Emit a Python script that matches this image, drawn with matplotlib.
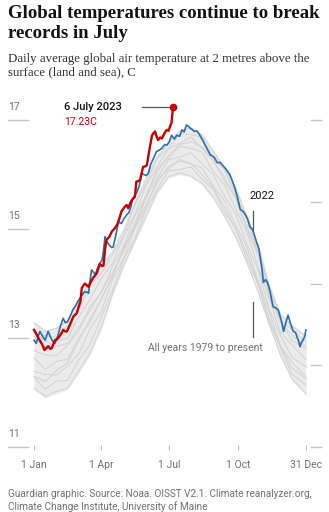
import matplotlib
matplotlib.use('Agg')
import matplotlib.pyplot as plt

# Chart data
grid_days = [0, 15, 30, 45, 60, 75, 90, 105, 120, 135, 150, 165, 180,
             195, 210, 225, 240, 255, 270, 285, 300, 315, 330, 345, 364]

band_low = [12.05, 11.9, 11.98, 12.06, 12.35, 12.7, 13.15, 13.78, 14.3, 14.75, 15.2, 15.66, 15.93,
            16.0, 15.95, 15.8, 15.55, 15.2, 14.82, 14.35, 13.8, 13.2, 12.65, 12.22, 11.95]
band_high = [13.3, 13.15, 13.2, 13.35, 13.7, 14.1, 14.35, 14.6, 15.0, 15.5, 15.95, 16.35, 16.6,
             16.8, 16.88, 16.75, 16.45, 16.15, 15.78, 15.25, 14.72, 13.98, 13.45, 13.25, 13.05]

past_years = [
    [12.08, 11.93, 12.02, 12.08, 12.40, 12.72, 13.20, 13.80, 14.34, 14.78, 15.24, 15.68, 15.96,
     16.03, 15.97, 15.84, 15.58, 15.24, 14.85, 14.38, 13.84, 13.24, 12.68, 12.26, 11.98],
    [12.28, 12.06, 12.21, 12.22, 12.60, 12.88, 13.38, 13.87, 14.45, 14.83, 15.36, 15.73, 16.07,
     16.09, 16.14, 15.91, 15.73, 15.31, 15.01, 14.45, 13.99, 13.29, 12.82, 12.34, 12.14],
    [12.39, 12.33, 12.32, 12.49, 12.71, 13.17, 13.48, 14.07, 14.47, 15.01, 15.39, 15.91, 16.10,
     16.28, 16.19, 16.12, 15.79, 15.52, 15.07, 14.66, 14.05, 13.47, 12.85, 12.56, 12.28],
    [12.64, 12.42, 12.57, 12.61, 13.00, 13.29, 13.72, 14.12, 14.66, 15.05, 15.57, 15.94, 16.27,
     16.32, 16.40, 16.19, 16.00, 15.60, 15.28, 14.72, 14.25, 13.52, 13.04, 12.65, 12.47],
    [12.77, 12.69, 12.67, 12.87, 13.13, 13.58, 13.83, 14.31, 14.69, 15.24, 15.61, 16.11, 16.30,
     16.52, 16.48, 16.41, 16.05, 15.81, 15.37, 14.93, 14.31, 13.71, 13.10, 12.88, 12.60],
    [13.03, 12.81, 12.94, 12.99, 13.39, 13.71, 14.09, 14.37, 14.86, 15.27, 15.80, 16.15, 16.47,
     16.57, 16.69, 16.47, 16.26, 15.88, 15.58, 14.99, 14.52, 13.76, 13.29, 12.96, 12.80],
    [13.12, 13.04, 13.01, 13.23, 13.50, 13.97, 14.18, 14.53, 14.88, 15.45, 15.83, 16.30, 16.48,
     16.74, 16.74, 16.67, 16.30, 16.08, 15.63, 15.17, 14.57, 13.93, 13.32, 13.16, 12.93],
    [13.28, 13.12, 13.18, 13.32, 13.66, 14.06, 14.32, 14.58, 14.98, 15.47, 15.93, 16.33, 16.58,
     16.80, 16.86, 16.72, 16.43, 16.12, 15.75, 15.22, 14.69, 13.96, 13.43, 13.22, 13.03],
    [12.30, 12.20, 12.40, 12.55, 12.95, 13.35, 13.70, 14.15, 14.62, 15.10, 15.60, 16.05, 16.35,
     16.55, 16.60, 16.50, 16.25, 15.95, 15.55, 15.05, 14.55, 13.85, 13.30, 13.05, 12.85],
    [13.10, 12.95, 12.85, 12.90, 13.20, 13.50, 13.85, 14.20, 14.60, 15.05, 15.45, 15.85, 16.15,
     16.25, 16.20, 16.00, 15.75, 15.40, 15.00, 14.55, 14.00, 13.35, 12.85, 12.45, 12.25],
]

days_2022 = [0, 3, 6, 8, 12, 15, 17, 19, 22, 24, 28, 31, 35, 39, 42, 45, 49, 52, 56, 59, 62, 65,
             68, 71, 73, 75, 77, 80, 82, 85, 88, 91, 93, 95, 98, 101, 104, 106, 110, 113, 117, 120,
             124, 127, 130, 132, 135, 138, 141, 144, 147, 150, 153, 156, 160, 164, 168, 171, 175,
             178, 181, 184, 188, 191, 195, 198, 201, 204, 207, 209, 212, 215, 218, 222, 226, 229,
             232, 236, 239, 242, 245, 249, 253, 258, 262, 265, 269, 272, 276, 280, 283, 286, 289,
             292, 294, 298, 301, 303, 305, 307, 310, 312, 314, 316, 318, 320, 324, 327, 331, 334,
             337, 340, 343, 347, 350, 352, 354, 356, 358, 360, 362, 364]
temps_2022 = [12.96, 12.90, 13.05, 13.12, 13.02, 12.96, 13.05, 13.12, 13.02, 12.96, 12.90, 13.00,
              13.20, 13.36, 13.28, 13.30, 13.42, 13.52, 13.60, 13.68, 13.74, 13.80, 13.85, 13.84,
              13.82, 14.05, 14.25, 14.20, 14.16, 14.28, 14.36, 14.43, 14.60, 14.86, 14.76, 14.70,
              14.66, 14.67, 14.92, 15.13, 15.10, 15.18, 15.26, 15.30, 15.42, 15.55, 15.62, 15.68,
              15.80, 16.02, 16.00, 15.98, 16.02, 16.18, 16.30, 16.42, 16.45, 16.48, 16.55, 16.54,
              16.60, 16.72, 16.65, 16.72, 16.70, 16.82, 16.78, 16.91, 16.88, 16.85, 16.82, 16.79,
              16.80, 16.72, 16.62, 16.54, 16.46, 16.36, 16.34, 16.30, 16.22, 16.22, 16.16, 16.08,
              16.00, 15.90, 15.74, 15.60, 15.36, 15.32, 15.26, 15.18, 15.04, 15.00, 14.93, 14.75,
              14.64, 14.46, 14.28, 14.02, 14.07, 14.03, 13.95, 13.85, 13.70, 13.57, 13.55, 13.51,
              13.32, 13.12, 13.28, 13.42, 13.28, 13.12, 13.10, 13.02, 12.95, 12.84, 12.92, 12.96,
              13.02, 13.15]

days_2023 = [0, 4, 8, 11, 14, 17, 19, 22, 24, 28, 31, 33, 37, 39, 42, 44, 48, 51, 53, 57, 60, 62,
             64, 68, 71, 73, 76, 79, 82, 84, 88, 91, 93, 95, 97, 101, 104, 108, 112, 115, 117, 121,
             124, 126, 129, 131, 135, 137, 140, 142, 144, 146, 149, 151, 155, 158, 160, 162, 164,
             166, 169, 171, 174, 176, 178, 180, 182, 184, 186]
temps_2023 = [13.15, 13.05, 12.95, 12.88, 12.78, 12.82, 12.85, 12.80, 12.82, 12.96, 12.98, 13.01,
              13.09, 13.15, 13.12, 13.12, 13.24, 13.34, 13.40, 13.45, 13.58, 13.66, 13.92, 14.00,
              13.96, 13.94, 14.03, 14.10, 14.15, 14.19, 14.36, 14.32, 14.33, 14.62, 14.80, 14.86,
              14.95, 15.01, 15.10, 15.23, 15.32, 15.40, 15.44, 15.38, 15.48, 15.53, 15.59, 15.87,
              15.88, 15.90, 16.02, 16.14, 16.15, 16.17, 16.50, 16.72, 16.76, 16.79, 16.70, 16.63,
              16.68, 16.66, 16.74, 16.79, 16.82, 16.80, 16.88, 16.95, 17.23]

tick_days = [0, 90, 181, 273, 364]
tick_labels = ['1 Jan', '1 Apr', '1 Jul', '1 Oct', '31 Dec']
left_ticks = [11, 13, 15, 17]
right_ticks = [11, 12.5, 14, 15.5, 17]

RED = '#c70000'
BLUE = '#2a6fb0'
GREY_TXT = '#707070'

fig = plt.figure(figsize=(3.29, 5.12), dpi=100)
W, H = 329, 512
ax = fig.add_axes([8 / W, (H - 450) / H, 313 / W, 355 / H])
x0, x1 = -34.8, 384.1
ax.set_xlim(x0, x1)
ax.set_ylim(11 - 3 / 54.5, 11 + (447 - 95) / 54.5)
for s in ax.spines.values():
    s.set_visible(False)

# grey band of past years
ax.fill_between(grid_days, band_low, band_high, color='#ebebeb', lw=0, zorder=1)
for yr in past_years:
    ax.plot(grid_days, yr, color='#d2d2d2', lw=0.7, zorder=2)

ax.plot(days_2022, temps_2022, color=BLUE, lw=1.2, zorder=3)
ax.plot(days_2023, temps_2023, color=RED, lw=1.7, zorder=4, solid_joinstyle='round')
ax.plot([days_2023[-1]], [temps_2023[-1]], 'o', color=RED, ms=4.5, zorder=5)

# y stubs and labels
for t in left_ticks:
    ax.plot([x0, -8], [t, t], color='#c4c4c4', lw=1, clip_on=False)
    ax.text(x0, t + 0.24, str(t), color=GREY_TXT, fontsize=7.5, ha='left', va='center',
            family='Roboto')
for t in right_ticks:
    ax.plot([370.8, x1], [t, t], color='#c4c4c4', lw=1, clip_on=False)

ax.set_yticks([])
ax.set_xticks(tick_days)
ax.set_xticklabels(tick_labels, family='Roboto', fontsize=7.5, color=GREY_TXT)
ax.tick_params(axis='x', direction='in', length=3.6, width=0.8, color='#bbbbbb', pad=7)

# annotations
ax.plot([144, 183], [17.23, 17.23], color='#555555', lw=0.9)
ax.text(40, 17.23, '6 July 2023', fontsize=8, color='#121212', ha='left', va='center',
        family='Roboto', weight='medium')
ax.text(41, 16.96, '17.23C', fontsize=7.5, color=RED, ha='left', va='center',
        family='Roboto')
ax.text(304.5, 15.60, '2022', fontsize=8, color='#121212', ha='center', va='center',
        family='Roboto')
ax.plot([293.5, 293.5], [14.98, 15.33], color='#555555', lw=0.9)
ax.plot([293.5, 293.5], [13.01, 13.66], color='#555555', lw=0.9)
ax.text(229.6, 12.81, 'All years 1979 to present', fontsize=7.5, color=GREY_TXT,
        ha='center', va='center', family='Roboto')

# headline, standfirst, source
fig.text(8 / W, 1 - 18 / H, 'Global temperatures continue to break', fontsize=13.5,
         weight='bold', family='Liberation Serif', color='#121212', va='baseline')
fig.text(8 / W, 1 - 38 / H, 'records in July', fontsize=13.5,
         weight='bold', family='Liberation Serif', color='#121212', va='baseline')
fig.text(8 / W, 1 - 62 / H, 'Daily average global air temperature at 2 metres above the',
         fontsize=9.3, family='Liberation Serif', color='#333333', va='baseline')
fig.text(8 / W, 1 - 75.5 / H, 'surface (land and sea), C',
         fontsize=9.3, family='Liberation Serif', color='#333333', va='baseline')
fig.text(8 / W, 1 - 497 / H, 'Guardian graphic. Source: Noaa. OISST V2.1. Climate reanalyzer.org,',
         fontsize=7.2, family='Roboto', color=GREY_TXT, va='baseline')
fig.text(8 / W, 1 - 510.5 / H, 'Climate Change Institute, University of Maine',
         fontsize=7.2, family='Roboto', color=GREY_TXT, va='baseline')

fig.savefig('out.png', dpi=100)
